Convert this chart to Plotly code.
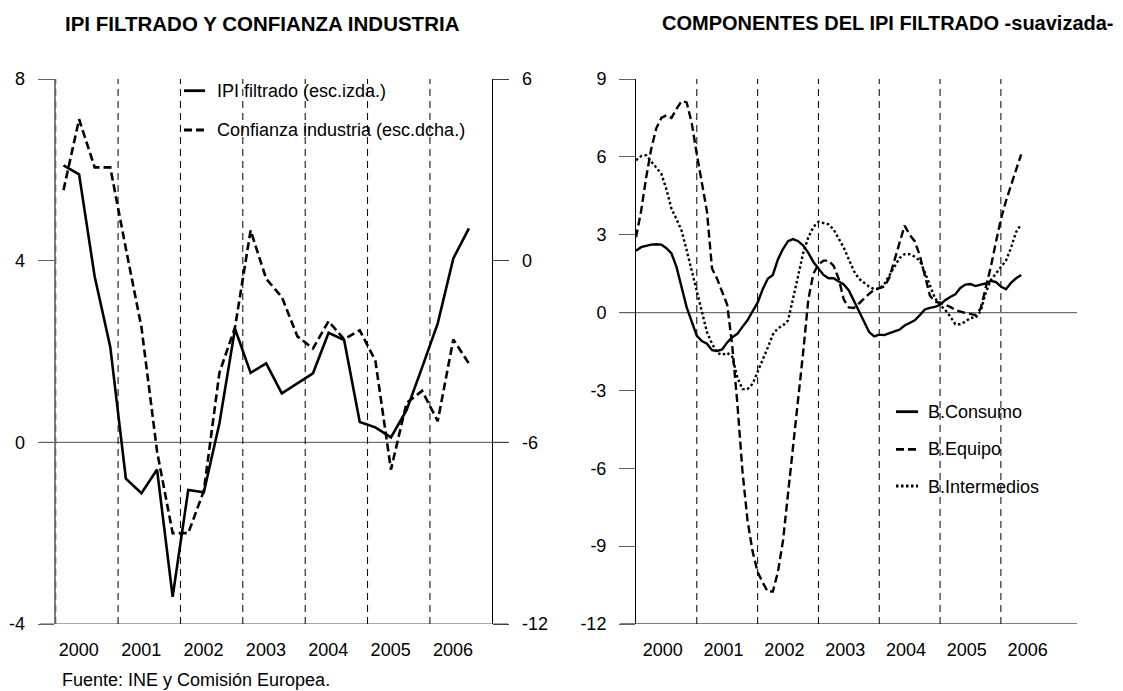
import plotly.graph_objects as go

# ---------------- DATA ----------------
years = [2000, 2001, 2002, 2003, 2004, 2005, 2006]
year_labels = ["2000", "2001", "2002", "2003", "2004", "2005", "2006"]

# Left chart: quarterly, 2000Q1 .. 2006Q3
quarters = [y + (q + 0.5) / 4 for y in years for q in range(4)][:27]
ipi_filtrado = [6.1, 5.9, 3.65, 2.1,
                -0.8, -1.12, -0.6, -3.4,
                -1.05, -1.1, 0.42, 2.5,
                1.53, 1.74, 1.08, 1.3,
                1.52, 2.41, 2.25, 0.45,
                0.33, 0.11, 0.71, 1.65,
                2.62, 4.05, 4.71]
confianza = [2.33, 4.67, 3.08, 3.08,
             0.4, -2.2, -6.3, -9.0,
             -9.0, -7.6, -3.7, -2.2,
             1.0, -0.6, -1.2, -2.5,
             -2.9, -2.0, -2.6, -2.3,
             -3.3, -6.9, -4.7, -4.3,
             -5.3, -2.6, -3.4]

# Right chart: monthly, Jan 2000 .. May 2006
months = [2000 + m / 12 for m in range(77)]
b_consumo = [2.38, 2.52, 2.57, 2.62, 2.63, 2.62, 2.48, 2.28, 1.75, 0.95,
             0.2, -0.35, -0.9, -1.1, -1.2, -1.45, -1.48, -1.42, -1.15, -0.95,
             -0.82, -0.55, -0.3, 0.05, 0.38, 0.9, 1.3, 1.45, 2.05, 2.45,
             2.75, 2.83, 2.75, 2.58, 2.3, 1.95, 1.7, 1.45, 1.32, 1.32,
             1.2, 1.08, 0.85, 0.45, 0.05, -0.4, -0.75, -0.92, -0.85, -0.87,
             -0.78, -0.72, -0.66, -0.5, -0.4, -0.3, -0.1, 0.12, 0.18, 0.22,
             0.3, 0.48, 0.6, 0.7, 0.95, 1.08, 1.1, 1.02, 1.08, 1.12,
             1.22, 1.18, 1.0, 0.9, 1.15, 1.32, 1.45]
b_equipo = [2.9, 3.9, 5.2, 6.3, 7.1, 7.5, 7.6, 7.5, 7.85, 8.15,
            8.1, 7.3, 6.1, 5.0, 3.9, 1.7, 1.3, 0.8, 0.3, -1.3,
            -3.5, -6.1, -8.0, -9.2, -10.0, -10.4, -10.75, -10.75, -10.0, -8.8,
            -7.0, -5.2, -3.3, -1.5, 0.5, 1.5, 1.85, 2.0, 2.0, 1.8,
            1.3, 0.5, 0.2, 0.18, 0.35, 0.55, 0.72, 0.88, 0.95, 1.0,
            1.35, 2.0, 2.7, 3.35, 3.0, 2.75, 2.2, 1.45, 0.65, 0.42,
            0.38, 0.3, 0.22, 0.1, 0.03, -0.02, -0.05, -0.1, 0.15, 0.95,
            1.75, 2.7, 3.6, 4.3, 4.9, 5.5, 6.1]
b_intermedios = [5.87, 6.03, 6.06, 5.82, 5.57, 5.35, 4.75, 4.0, 3.6, 3.15,
                 2.4, 1.6, 0.75, 0.0, -0.75, -1.2, -1.55, -1.63, -1.55, -1.7,
                 -2.5, -2.95, -2.95, -2.75, -2.3, -1.85, -1.35, -0.85, -0.6, -0.5,
                 -0.3, 0.55, 1.45, 2.3, 2.9, 3.3, 3.5, 3.46, 3.4, 3.2,
                 2.85, 2.5, 2.05, 1.6, 1.3, 1.15, 1.0, 0.9, 0.92, 1.1,
                 1.45, 1.8, 2.1, 2.25, 2.25, 2.15, 2.0, 1.55, 1.05, 0.55,
                 0.3, 0.1, -0.15, -0.45, -0.45, -0.35, -0.2, -0.2, 0.05, 0.75,
                 1.25, 1.5, 1.75, 2.0, 2.5, 3.1, 3.4]

left_ticks = [-4, 0, 4, 8]
left_right_ticks = [-12, -6, 0, 6]
right_ticks = [-12, -9, -6, -3, 0, 3, 6, 9]

# ---------------- STYLE / LAYOUT ----------------
W, H = 1123, 691
FONT = "Liberation Sans, Arial, sans-serif"
def px(x):
    return x / W
def py(y):
    return 1 - y / H
def labels(vals):
    return [str(v) for v in vals]

L_dom = [px(55.7), px(492.3)]
R_dom = [px(636), px(1061.7)]
Y_dom = [py(624), py(79)]

fig = go.Figure()

fig.add_trace(go.Scatter(x=quarters, y=ipi_filtrado, mode="lines", xaxis="x", yaxis="y",
                         line=dict(color="black", width=2.6), name="IPI filtrado (esc.izda.)",
                         showlegend=False))
fig.add_trace(go.Scatter(x=quarters, y=confianza, mode="lines", xaxis="x", yaxis="y2",
                         line=dict(color="black", width=2.6, dash="8px,4px"),
                         name="Confianza industria (esc.dcha.)", showlegend=False))

fig.add_trace(go.Scatter(x=months, y=b_consumo, mode="lines", xaxis="x2", yaxis="y3",
                         line=dict(color="black", width=2.4), name="B.Consumo", showlegend=False))
fig.add_trace(go.Scatter(x=months, y=b_equipo, mode="lines", xaxis="x2", yaxis="y3",
                         line=dict(color="black", width=2.4, dash="8px,4px"), name="B.Equipo",
                         showlegend=False))
fig.add_trace(go.Scatter(x=months, y=b_intermedios, mode="lines", xaxis="x2", yaxis="y3",
                         line=dict(color="black", width=2.4, dash="2.5px,2.5px"), name="B.Intermedios",
                         showlegend=False))

tickfont = dict(family=FONT, size=18, color="black")
common_y = dict(showgrid=False, zeroline=False, ticks="outside", ticklen=16, tickwidth=1,
                tickfont=tickfont, showline=True, linewidth=1, automargin=False,
                ticklabelstandoff=9)
common_x = dict(range=[2000, 2007], showgrid=False, zeroline=False, showline=False,
                ticks="outside", ticklen=9, tickcolor="rgba(0,0,0,0)", tickfont=tickfont,
                ticktext=year_labels, automargin=False)

shapes = []
# year separators
for yr in years:
    shapes.append(dict(type="line", xref="x", yref="y", x0=yr, x1=yr, y0=-4, y1=8,
                       line=dict(color="black", width=1, dash="7px,5px"), layer="above"))
    if yr > 2000:
        shapes.append(dict(type="line", xref="x2", yref="y3", x0=yr, x1=yr, y0=-12, y1=9,
                           line=dict(color="black", width=1, dash="7px,5px"), layer="below"))
# horizontal zero / bottom lines extending over the tick marks
shapes.append(dict(type="line", xref="paper", yref="y", x0=px(40), x1=px(508), y0=0, y1=0,
                   line=dict(color="#707070", width=1.2), layer="below"))
shapes.append(dict(type="line", xref="paper", yref="y", x0=px(40), x1=px(508), y0=-4, y1=-4,
                   line=dict(color="#505050", width=1.2), layer="below"))
shapes.append(dict(type="line", xref="paper", yref="y3", x0=px(620), x1=px(1077), y0=0, y1=0,
                   line=dict(color="#707070", width=1.2), layer="below"))
shapes.append(dict(type="line", xref="paper", yref="y3", x0=px(620), x1=px(1077), y0=-12, y1=-12,
                   line=dict(color="black", width=1.2), layer="below"))

# legend samples
shapes.append(dict(type="line", xref="paper", yref="paper", x0=px(184), x1=px(205),
                   y0=py(90.7), y1=py(90.7), line=dict(color="black", width=2.8)))
shapes.append(dict(type="line", xref="paper", yref="paper", x0=px(184), x1=px(205),
                   y0=py(130), y1=py(130), line=dict(color="black", width=2.8, dash="8px,4px")))
shapes.append(dict(type="line", xref="paper", yref="paper", x0=px(896), x1=px(918),
                   y0=py(411.7), y1=py(411.7), line=dict(color="black", width=2.8)))
shapes.append(dict(type="line", xref="paper", yref="paper", x0=px(896), x1=px(918),
                   y0=py(449.3), y1=py(449.3), line=dict(color="black", width=2.8, dash="8px,4px")))
shapes.append(dict(type="line", xref="paper", yref="paper", x0=px(896), x1=px(918),
                   y0=py(486), y1=py(486), line=dict(color="black", width=2.8, dash="2.5px,2.5px")))

ann = []
def text(x, y, s, size=18, bold=False, anchor="left"):
    ann.append(dict(x=px(x), y=py(y), xref="paper", yref="paper", text=("<b>%s</b>" % s) if bold else s,
                    showarrow=False, xanchor=anchor, yanchor="middle",
                    font=dict(family=FONT, size=size, color="black")))

text(262, 23, "IPI FILTRADO Y CONFIANZA INDUSTRIA", size=20.5, bold=True, anchor="center")
text(888, 23, "COMPONENTES DEL IPI FILTRADO -suavizada-", size=20, bold=True, anchor="center")
text(214.5, 91, "IPI filtrado (esc.izda.)")
text(214.5, 130, "Confianza industria (esc.dcha.)")
text(926, 412, "B.Consumo")
text(926, 449.5, "B.Equipo")
text(926, 486.5, "B.Intermedios")
text(60, 680, "Fuente: INE y Comisión Europea.")

fig.update_layout(
    width=W, height=H, margin=dict(l=0, r=0, t=0, b=0, autoexpand=False),
    paper_bgcolor="white", plot_bgcolor="rgba(0,0,0,0)",
    showlegend=False,
    xaxis=dict(common_x, domain=L_dom, anchor="y", tickvals=[y + 0.37 for y in years]),
    yaxis=dict(common_y, domain=Y_dom, anchor="x", range=[-4, 8], tickvals=left_ticks,
               ticktext=labels(left_ticks),
               linecolor="#808080", linewidth=2, tickcolor="#606060"),
    yaxis2=dict(common_y, overlaying="y", anchor="x", side="right", range=[-12, 6],
                tickvals=left_right_ticks, ticktext=labels(left_right_ticks),
                linecolor="black", tickcolor="#404040"),
    xaxis2=dict(common_x, domain=R_dom, anchor="y3", tickvals=[y + 0.44 for y in years]),
    yaxis3=dict(common_y, domain=Y_dom, anchor="x2", range=[-12, 9], tickvals=right_ticks,
                ticktext=labels(right_ticks),
                linecolor="black", tickcolor="#606060"),
    yaxis4=dict(common_y, overlaying="y3", anchor="x2", side="right", range=[-12, 9],
                tickvals=right_ticks, ticktext=labels(right_ticks),
                linecolor="black", tickcolor="#606060"),
    shapes=shapes, annotations=ann,
)

fig.write_html("out.html", config={"displayModeBar": False},
               post_script="document.body.style.margin='0';")
